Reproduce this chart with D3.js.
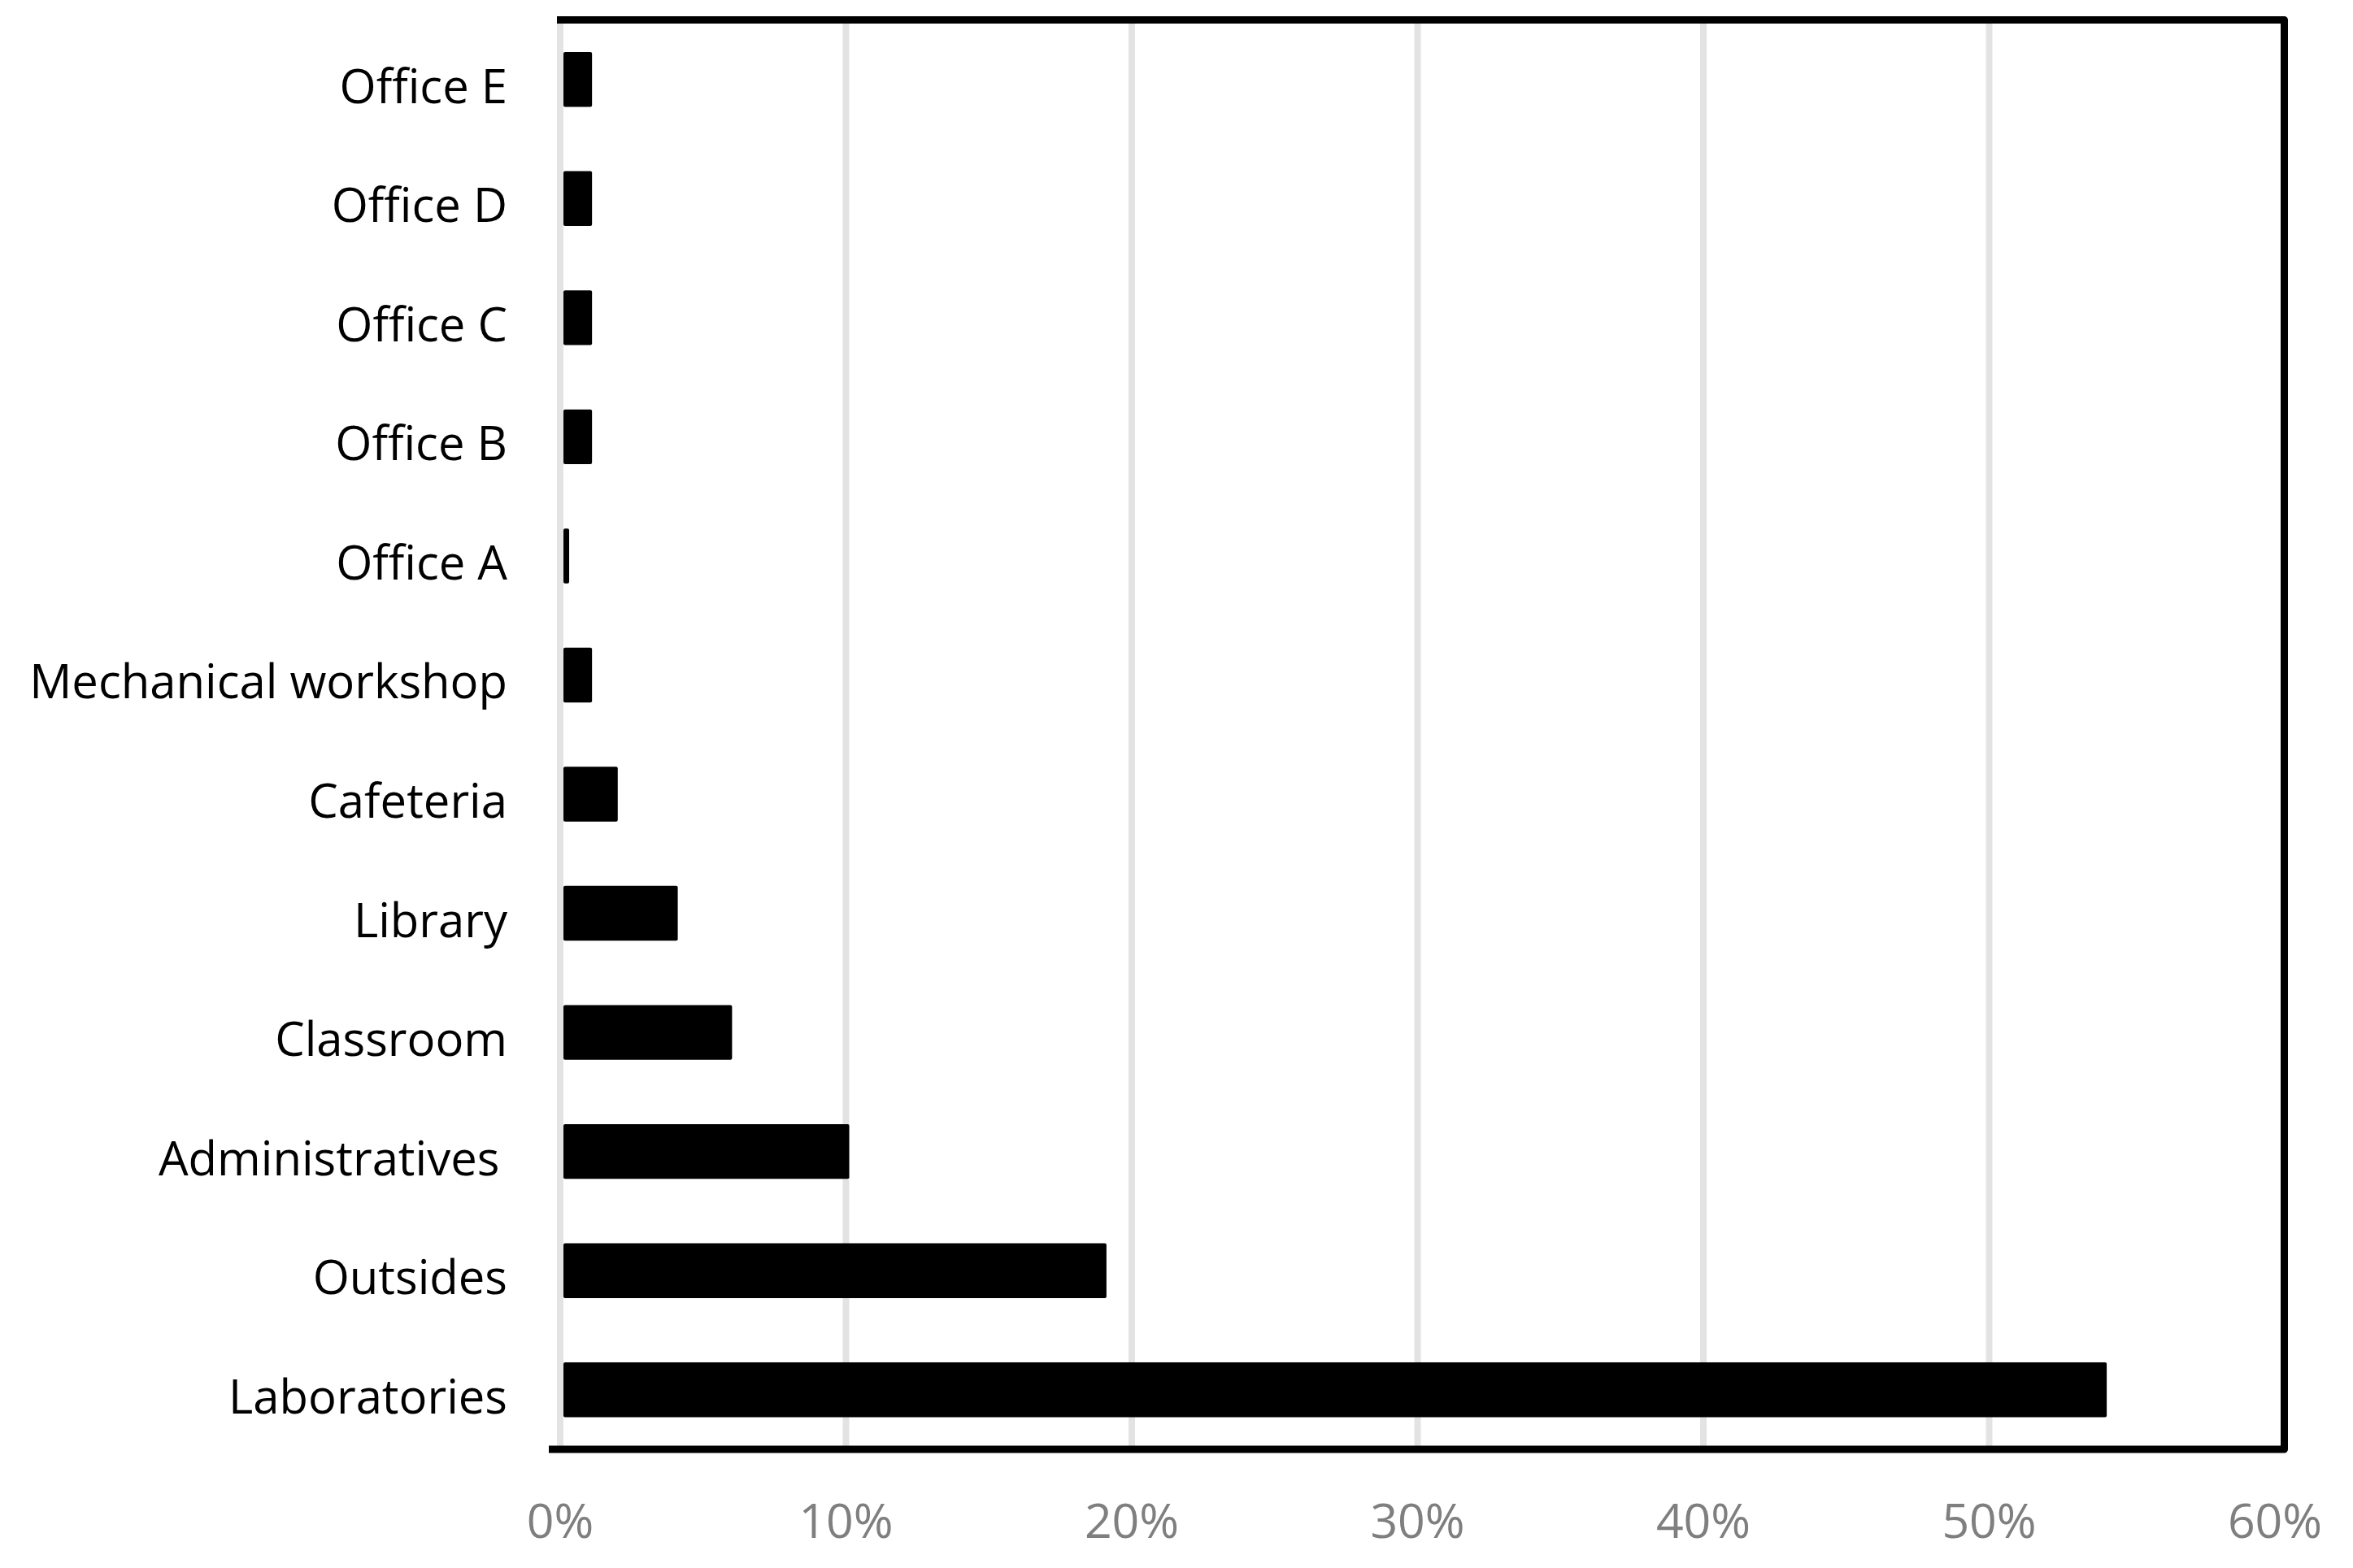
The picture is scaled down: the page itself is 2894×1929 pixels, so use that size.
<!DOCTYPE html>
<html>
<head>
<meta charset="utf-8">
<script src="https://cdn.jsdelivr.net/npm/d3@7"></script>
<style>
  html, body { margin: 0; padding: 0; background: #fff; }
  svg { display: block; }
  .cat text { font-family: "Open Sans", "Noto Sans", sans-serif; font-size: 58px; fill: #000; white-space: pre; }
  .ticks text { font-family: "Open Sans", "Noto Sans", sans-serif; font-size: 59px; fill: #7f7f7f; }
</style>
</head>
<body>
<svg id="chart"></svg>
<script>
  //begin: data
  var categories = ["Office E", "Office D", "Office C", "Office B", "Office A",
                    "Mechanical workshop", "Cafeteria", "Library", "Classroom",
                    "Administratives\u2009", "Outsides", "Laboratories"];
  var shares = [1.0, 1.0, 1.0, 1.0, 0.2, 1.0, 1.9, 4.0, 5.9, 10.0, 19.0, 54.0];
  var tickValues = [0, 10, 20, 30, 40, 50, 60];
  //end: data

  //begin: layout conf.
  var svgWidth = 2894,
      svgHeight = 1929,
      plot = {left: 693, right: 2802, top: 24.5, bottom: 1783},
      gridWidth = 8,
      frameWidth = 9;
  //end: layout conf.

  var svg = d3.select("#chart")
    .attr("width", svgWidth)
    .attr("height", svgHeight);

  var x = d3.scaleLinear()
    .domain([0, 60])
    .range([plot.left, plot.right]);

  var y = d3.scaleBand()
    .domain(categories)
    .range([plot.top, plot.bottom])
    .paddingInner(0.54)
    .paddingOuter(0.27);

  // gridlines (drawn just left of each value position, like the original)
  svg.append("g")
    .classed("grid", true)
    .selectAll("rect")
    .data(tickValues.slice(0, -1))
    .enter().append("rect")
      .attr("x", function(d){ return x(d) - gridWidth; })
      .attr("y", plot.top)
      .attr("width", gridWidth)
      .attr("height", plot.bottom - plot.top)
      .style("fill", "#e3e3e3");

  // bars
  svg.append("g")
    .classed("bars", true)
    .selectAll("rect")
    .data(categories)
    .enter().append("rect")
      .attr("x", x(0))
      .attr("y", function(d){ return y(d); })
      .attr("width", function(d, i){ return x(shares[i]) - x(0); })
      .attr("height", y.bandwidth())
      .attr("rx", 2)
      .style("fill", "#000");

  // frame: top, right, bottom (no left side)
  var frame = svg.append("g").classed("frame", true);
  frame.append("path")
    .attr("d", "M" + [x(0) - gridWidth, plot.top] +
               "L" + [x(60) + 3 + frameWidth / 2, plot.top] +
               "L" + [x(60) + 3 + frameWidth / 2, plot.bottom] +
               "L" + [x(0) - 18, plot.bottom])
    .style("fill", "none")
    .style("stroke", "#000")
    .style("stroke-width", frameWidth)
    .style("stroke-linejoin", "round");

  // category labels
  svg.append("g")
    .classed("cat", true)
    .selectAll("text")
    .data(categories)
    .enter().append("text")
      .attr("x", x(0) - 69)
      .attr("y", function(d){ return y(d) + y.bandwidth() / 2 + 29; })
      .attr("text-anchor", "end")
      .text(function(d){ return d; });

  // tick labels
  svg.append("g")
    .classed("ticks", true)
    .selectAll("text")
    .data(tickValues)
    .enter().append("text")
      .attr("x", function(d){ return x(d) - 4; })
      .attr("y", 1892)
      .attr("text-anchor", "middle")
      .text(function(d){ return d + "%"; });
</script>
</body>
</html>
